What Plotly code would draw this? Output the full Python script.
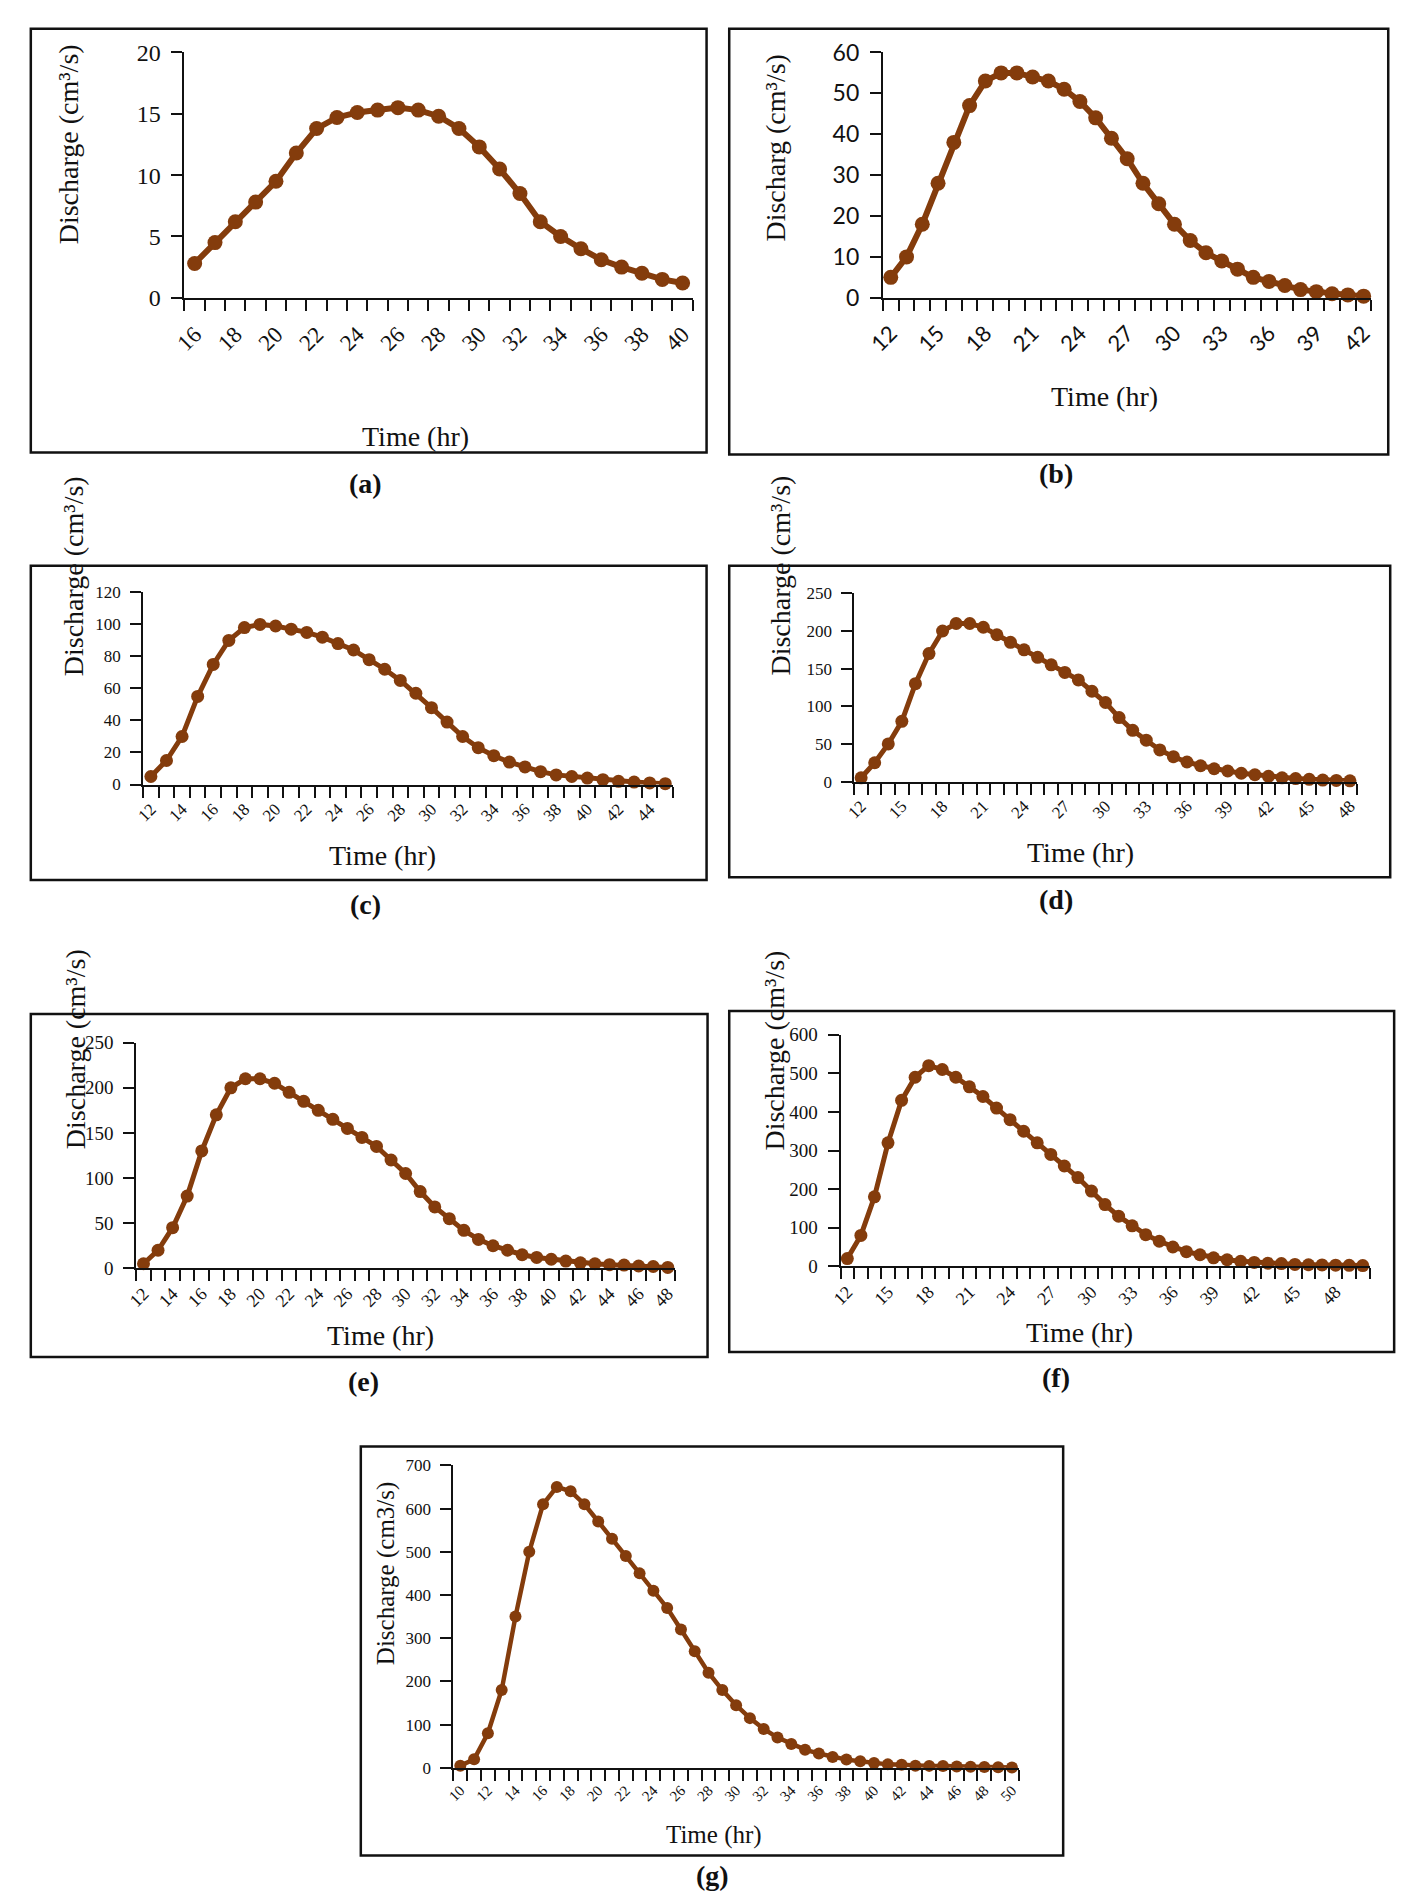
import plotly.graph_objects as go

W, H = 1407, 1903

# ---------------- data ----------------
time_a = [16, 17, 18, 19, 20, 21, 22, 23, 24, 25, 26, 27, 28, 29, 30, 31, 32, 33, 34, 35, 36, 37, 38, 39, 40]
q_a = [2.8, 4.5, 6.2, 7.8, 9.5, 11.8, 13.8, 14.7, 15.1, 15.3, 15.5, 15.3, 14.8, 13.8, 12.3, 10.5, 8.5, 6.2,
       5.0, 4.0, 3.1, 2.5, 2.0, 1.5, 1.2]
ticks_a = [16, 18, 20, 22, 24, 26, 28, 30, 32, 34, 36, 38, 40]

time_b = [12, 13, 14, 15, 16, 17, 18, 19, 20, 21, 22, 23, 24, 25, 26, 27, 28, 29, 30, 31, 32, 33, 34, 35, 36,
          37, 38, 39, 40, 41, 42]
q_b = [5, 10, 18, 28, 38, 47, 53, 55, 55, 54, 53, 51, 48, 44, 39, 34, 28, 23, 18, 14, 11, 9, 7, 5, 4, 3, 2,
       1.5, 1, 0.7, 0.4]
ticks_b = [12, 15, 18, 21, 24, 27, 30, 33, 36, 39, 42]

time_c = [12, 13, 14, 15, 16, 17, 18, 19, 20, 21, 22, 23, 24, 25, 26, 27, 28, 29, 30, 31, 32, 33, 34, 35, 36,
          37, 38, 39, 40, 41, 42, 43, 44, 45]
q_c = [5, 15, 30, 55, 75, 90, 98, 100, 99, 97, 95, 92, 88, 84, 78, 72, 65, 57, 48, 39, 30, 23, 18, 14, 11, 8,
       6, 5, 4, 3, 2, 1.5, 1, 0.5]
ticks_c = [12, 14, 16, 18, 20, 22, 24, 26, 28, 30, 32, 34, 36, 38, 40, 42, 44]

time_d = [12, 13, 14, 15, 16, 17, 18, 19, 20, 21, 22, 23, 24, 25, 26, 27, 28, 29, 30, 31, 32, 33, 34, 35, 36,
          37, 38, 39, 40, 41, 42, 43, 44, 45, 46, 47, 48]
q_d = [5, 25, 50, 80, 130, 170, 200, 210, 210, 205, 195, 185, 175, 165, 155, 145, 135, 120, 105, 85, 68, 55,
       42, 33, 26, 21, 17, 14, 11, 9, 7, 5, 4, 3, 2, 1.5, 1]
ticks_d = [12, 15, 18, 21, 24, 27, 30, 33, 36, 39, 42, 45, 48]

time_e = [12, 13, 14, 15, 16, 17, 18, 19, 20, 21, 22, 23, 24, 25, 26, 27, 28, 29, 30, 31, 32, 33, 34, 35, 36,
          37, 38, 39, 40, 41, 42, 43, 44, 45, 46, 47, 48]
q_e = [5, 20, 45, 80, 130, 170, 200, 210, 210, 205, 195, 185, 175, 165, 155, 145, 135, 120, 105, 85, 68, 55,
       42, 32, 25, 20, 15, 12, 10, 8, 6, 5, 4, 3.5, 2.5, 2, 1]
ticks_e = [12, 14, 16, 18, 20, 22, 24, 26, 28, 30, 32, 34, 36, 38, 40, 42, 44, 46, 48]

time_f = [12, 13, 14, 15, 16, 17, 18, 19, 20, 21, 22, 23, 24, 25, 26, 27, 28, 29, 30, 31, 32, 33, 34, 35, 36,
          37, 38, 39, 40, 41, 42, 43, 44, 45, 46, 47, 48, 49, 50]
q_f = [20, 80, 180, 320, 430, 490, 520, 510, 490, 465, 440, 410, 380, 350, 320, 290, 260, 230, 195, 160, 130,
       105, 82, 65, 50, 38, 30, 22, 17, 13, 10, 8, 7, 5, 4, 3.5, 3, 2.5, 2]
ticks_f = [12, 15, 18, 21, 24, 27, 30, 33, 36, 39, 42, 45, 48]

time_g = [10, 11, 12, 13, 14, 15, 16, 17, 18, 19, 20, 21, 22, 23, 24, 25, 26, 27, 28, 29, 30, 31, 32, 33, 34,
          35, 36, 37, 38, 39, 40, 41, 42, 43, 44, 45, 46, 47, 48, 49, 50]
q_g = [5, 20, 80, 180, 350, 500, 610, 650, 640, 610, 570, 530, 490, 450, 410, 370, 320, 270, 220, 180, 145,
       115, 90, 70, 55, 42, 33, 25, 19, 15, 11, 8, 7, 5, 4.5, 4, 3, 2.5, 2, 1.5, 1]
ticks_g = [10, 12, 14, 16, 18, 20, 22, 24, 26, 28, 30, 32, 34, 36, 38, 40, 42, 44, 46, 48, 50]

y_max = {"a": 20, "b": 60, "c": 120, "d": 250, "e": 250, "f": 600, "g": 700}
y_step = {"a": 5, "b": 10, "c": 20, "d": 50, "e": 50, "f": 100, "g": 100}

y_titles = {
    "a": "Discharge (cm³/s)",
    "b": "Discharg (cm³/s)",
    "c": "Discharge (cm³/s)",
    "d": "Discharge (cm³/s)",
    "e": "Discharge (cm³/s)",
    "f": "Discharge (cm³/s)",
    "g": "Discharge (cm3/s)",
}
x_title = "Time (hr)"

# ---------------- layout (pixel geometry) ----------------
COLOR = "#843C0C"
INK = "#111111"
SERIF = "Liberation Serif"
SANS = "Lato"

panels = [
    dict(key="a", t=time_a, q=q_a, ticks=ticks_a, box=(13, 14, 699, 444), plot=(169, 38, 685, 287),
         yt=(51, 131), tt=(404, 428), lab=(353, 476), tickfont=SERIF, yfs=24, xfs=23, tfs=28, ms=15, lw=6,
         xstand=12, ytanchor="middle"),
    dict(key="b", t=time_b, q=q_b, ticks=ticks_b, box=(722, 14, 1391, 446), plot=(878, 38, 1374, 287),
         yt=(768, 135), tt=(1103, 387), lab=(1054, 465), tickfont=SANS, yfs=23, xfs=22, tfs=28, ms=15, lw=6,
         xstand=12, ytanchor="middle"),
    dict(key="c", t=time_c, q=q_c, ticks=ticks_c, box=(13, 559, 699, 878), plot=(127, 586, 665, 781),
         yt=(56, 673), tt=(370, 853), lab=(353, 903), tickfont=SERIF, yfs=17, xfs=17, tfs=28, ms=13, lw=5,
         xstand=6, ytanchor="bottom"),
    dict(key="d", t=time_d, q=q_d, ticks=ticks_d, box=(722, 559, 1393, 875), plot=(849, 587, 1359, 778),
         yt=(774, 672), tt=(1079, 850), lab=(1054, 898), tickfont=SERIF, yfs=17, xfs=17, tfs=28, ms=13, lw=5,
         xstand=6, ytanchor="bottom"),
    dict(key="e", t=time_e, q=q_e, ticks=ticks_e, box=(13, 1014, 700, 1362), plot=(120, 1043, 667, 1272),
         yt=(58, 1153), tt=(368, 1340), lab=(351, 1387), tickfont=SERIF, yfs=19, xfs=18, tfs=28, ms=13, lw=5,
         xstand=6, ytanchor="bottom"),
    dict(key="f", t=time_f, q=q_f, ticks=ticks_f, box=(722, 1011, 1397, 1357), plot=(835, 1035, 1372, 1270),
         yt=(767, 1155), tt=(1078, 1337), lab=(1054, 1383), tickfont=SERIF, yfs=19, xfs=18, tfs=28, ms=13, lw=5,
         xstand=6, ytanchor="bottom"),
    dict(key="g", t=time_g, q=q_g, ticks=ticks_g, box=(348, 1453, 1061, 1868), plot=(442, 1472, 1016, 1779),
         yt=(373, 1581), tt=(707, 1847), lab=(705, 1888), tickfont=SERIF, yfs=17, xfs=15, tfs=25, ms=12, lw=4.5,
         xstand=6, ytanchor="middle"),
]


def px(x):
    return x / W


def py(y):
    return 1 - y / H


fig = go.Figure()
shapes = []
annotations = []
layout_axes = {}

for i, p in enumerate(panels, start=1):
    xa = "x" if i == 1 else f"x{i}"
    ya = "y" if i == 1 else f"y{i}"
    fig.add_trace(go.Scatter(
        x=p["t"], y=p["q"], mode="lines+markers", xaxis=xa, yaxis=ya,
        line=dict(color=COLOR, width=p["lw"]),
        marker=dict(color=COLOR, size=p["ms"]),
        showlegend=False, hoverinfo="skip", cliponaxis=False,
    ))
    x0, top, x1, bottom = p["plot"]
    t0 = p["t"][0] - 0.5
    t1 = p["t"][-1] + 0.5
    xkey = "xaxis" if i == 1 else f"xaxis{i}"
    ykey = "yaxis" if i == 1 else f"yaxis{i}"
    layout_axes[xkey] = dict(
        domain=[px(x0), px(x1)], anchor=ya, range=[t0, t1],
        tickmode="array", tickvals=p["ticks"], ticktext=[str(v) for v in p["ticks"]],
        ticks="", tickangle=-45, showgrid=False, zeroline=False,
        showline=True, linecolor=INK, linewidth=2,
        tickfont=dict(family=p["tickfont"], size=p["xfs"], color=INK),
        ticklabelstandoff=p["xstand"],
        minor=dict(tick0=t0, dtick=1, ticks="outside", ticklen=11, tickwidth=2,
                   tickcolor=INK, showgrid=False),
        fixedrange=True,
    )
    layout_axes[ykey] = dict(
        domain=[py(bottom), py(top)], anchor=xa, range=[0, y_max[p["key"]]],
        dtick=y_step[p["key"]], tick0=0, ticks="outside", ticklen=11, tickwidth=2,
        tickcolor=INK, showgrid=False, zeroline=False,
        showline=True, linecolor=INK, linewidth=2,
        tickfont=dict(family=p["tickfont"], size=p["yfs"], color=INK),
        ticklabelstandoff=6, fixedrange=True,
    )
    l, t, r, b = p["box"]
    shapes.append(dict(type="rect", xref="paper", yref="paper",
                       x0=px(l), x1=px(r), y0=py(b), y1=py(t),
                       line=dict(color=INK, width=2.5), fillcolor="rgba(0,0,0,0)", layer="below"))
    annotations.append(dict(
        text=y_titles[p["key"]], xref="paper", yref="paper", x=px(p["yt"][0]), y=py(p["yt"][1]),
        xanchor="center", yanchor=p["ytanchor"], textangle=-90, showarrow=False,
        font=dict(family=SERIF, size=p["tfs"], color=INK)))
    annotations.append(dict(
        text=x_title, xref="paper", yref="paper", x=px(p["tt"][0]), y=py(p["tt"][1]),
        xanchor="center", yanchor="middle", showarrow=False,
        font=dict(family=SERIF, size=p["tfs"], color=INK)))
    annotations.append(dict(
        text=f"<b>({p['key']})</b>", xref="paper", yref="paper", x=px(p["lab"][0]), y=py(p["lab"][1]),
        xanchor="center", yanchor="middle", showarrow=False,
        font=dict(family=SERIF, size=28, color=INK)))

fig.update_layout(
    width=W, height=H, margin=dict(l=0, r=0, t=0, b=0),
    paper_bgcolor="white", plot_bgcolor="white",
    shapes=shapes, annotations=annotations, showlegend=False,
    **layout_axes,
)

fig.write_html(
    "out.html",
    config={"displayModeBar": False},
    post_script="document.body.style.margin='0';document.body.style.overflow='hidden';",
)
